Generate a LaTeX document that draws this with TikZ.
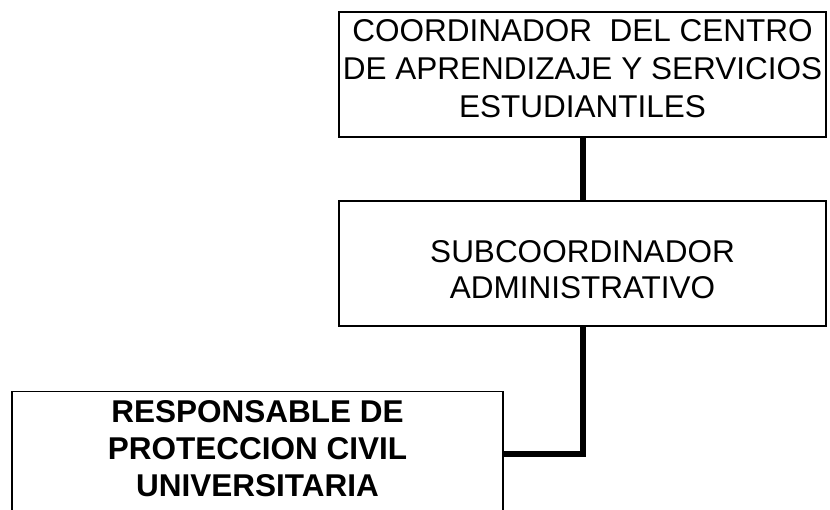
\documentclass[tikz,border=0pt]{standalone}
\usepackage{fontspec}
\setmainfont{Liberation Sans}
\begin{document}
\begin{tikzpicture}[x=1pt, y=-1pt, every node/.style={font=\fontsize{31.5}{38}\selectfont},
  caja/.style={draw=black, line width=1.8pt, inner sep=0pt, minimum height=125pt},
  texto/.style={align=center, inner sep=0pt}]
\useasboundingbox (0,0) rectangle (830,510);
% cajas del organigrama
\node[caja, minimum width=487pt] (coord) at (582.5,74.5) {};
\node[caja, minimum width=487pt] (subc) at (582.5,263.5) {};
\node[caja, minimum width=491pt] (resp) at (257.5,454) {};
% textos
\node[texto] (coordt) at (582.5,69) {COORDINADOR~ DEL CENTRO\\DE APRENDIZAJE Y SERVICIOS\\ESTUDIANTILES};
\node[texto, font=\fontsize{31.5}{36}\selectfont] (subct) at (582.5,270) {SUBCOORDINADOR\\ADMINISTRATIVO};
\node[texto, font=\fontsize{31.5}{37}\selectfont\bfseries] (respt) at (257.5,449) {RESPONSABLE DE\\PROTECCION CIVIL\\UNIVERSITARIA};
% lineas de mando
\draw[line width=6pt] (coord.south) -- (subc.north);
\draw[line width=6pt] (subc.south) |- (resp.east);
\end{tikzpicture}
\end{document}
